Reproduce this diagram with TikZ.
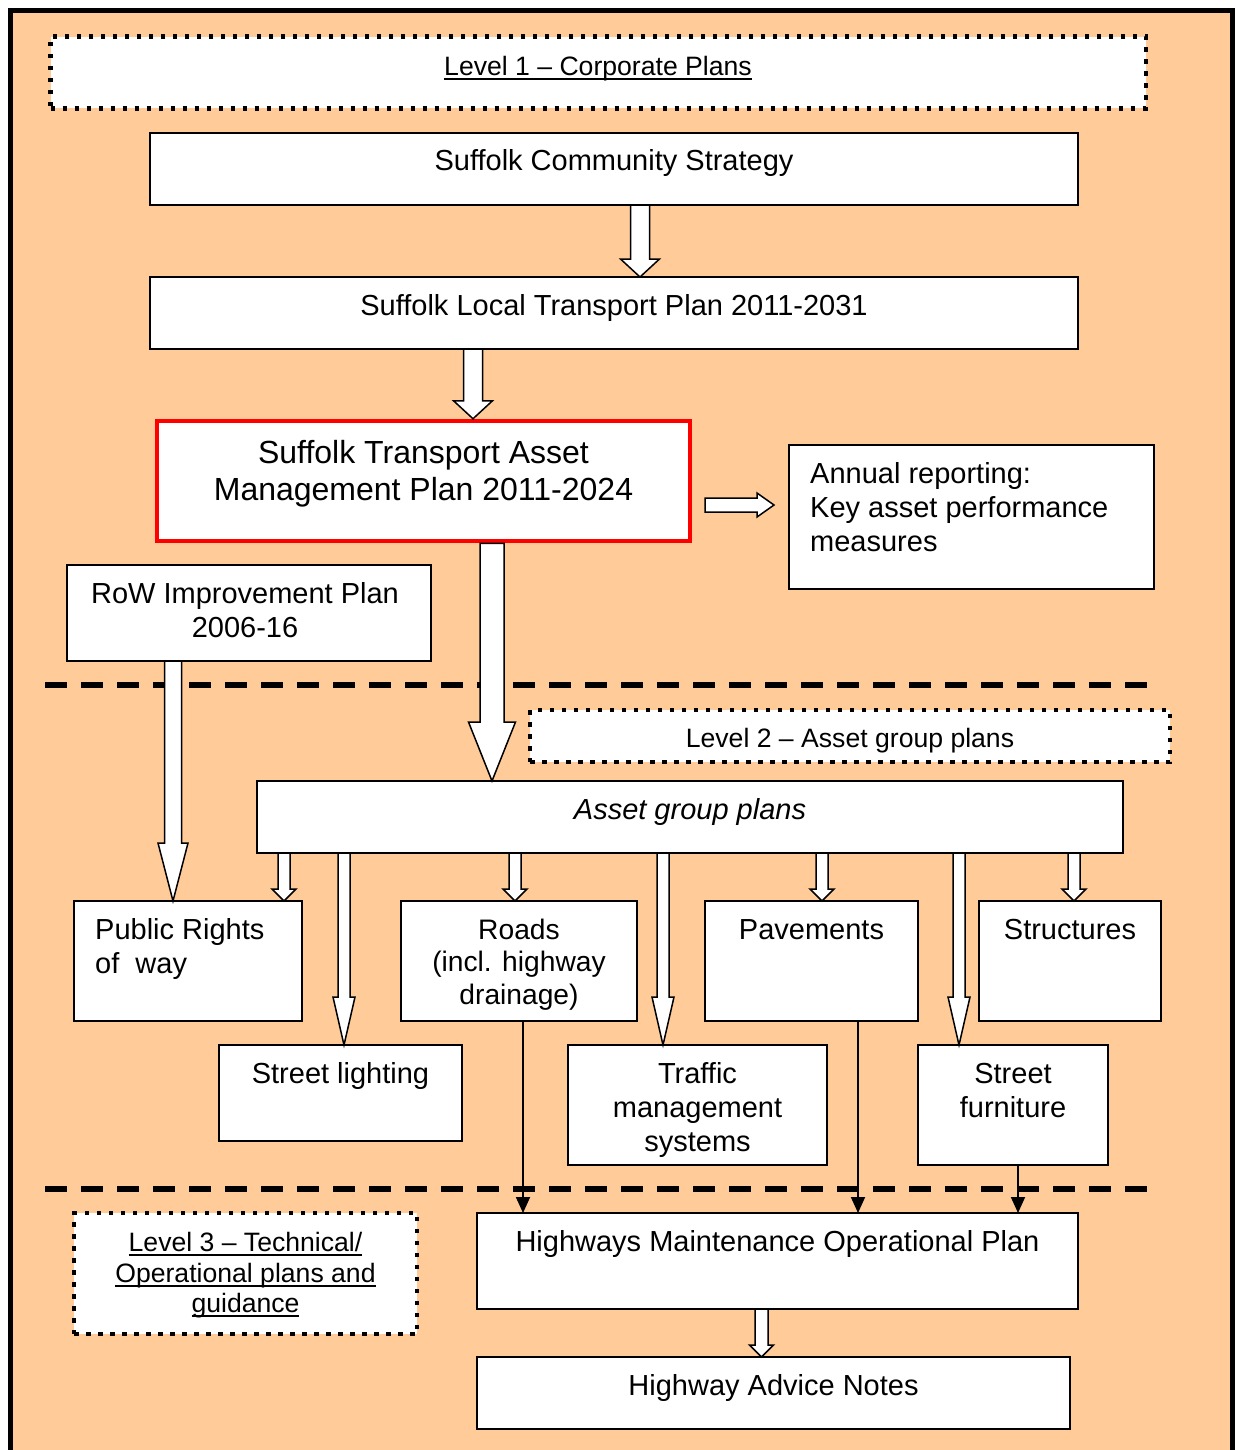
\documentclass[tikz,border=0pt]{standalone}
\usepackage{fontspec}
\setmainfont{Liberation Sans}
\usetikzlibrary{arrows.meta,calc}
\definecolor{bgorange}{RGB}{255,204,153}
\definecolor{boxred}{RGB}{255,0,0}
\newcommand\ulbox[1]{\setbox0\hbox{#1}\rlap{\rule[-4.5pt]{\wd0}{1.8pt}}\box0}
% vertical block arrow: start, tip, shaft half width, head half width, head length
\newcommand\vblock[5]{\draw[blockarrow] ($(#1)+(-#3,0)$) -- ($(#2)+(-#3,-#5)$) -- ($(#2)+(-#4,-#5)$) -- (#2) -- ($(#2)+(#4,-#5)$) -- ($(#2)+(#3,-#5)$) -- ($(#1)+(#3,0)$) -- cycle;}
\newcommand\hblock[5]{\draw[blockarrow] ($(#1)+(0,-#3)$) -- ($(#2)+(-#5,-#3)$) -- ($(#2)+(-#5,-#4)$) -- (#2) -- ($(#2)+(-#5,#4)$) -- ($(#2)+(-#5,#3)$) -- ($(#1)+(0,#3)$) -- cycle;}
\newcommand\boxat[6]{\node[#2, minimum width={#5-#3}, minimum height={#6-#4}] (#1) at ({(#3+#5)/2},{(#4+#6)/2}) {};}
\begin{document}
\begin{tikzpicture}[x=1pt,y=-1pt,
  box/.style={draw=black, line width=1.6pt, fill=white, rectangle, inner sep=0pt, outer sep=0pt},
  dotbox/.style={draw=black, fill=white, rectangle, inner sep=0pt, outer sep=0pt, line width=4.5pt, dash pattern=on 4.5pt off 7.5pt},
  redbox/.style={draw=boxred, fill=white, rectangle, inner sep=0pt, line width=4.5pt},
  txt/.style={inner sep=0pt, font=\fontsize{29}{34}\selectfont},
  levtxt/.style={inner sep=0pt, font=\fontsize{26.6}{30.5}\selectfont},
  bigtxt/.style={inner sep=0pt, font=\fontsize{32}{37}\selectfont},
  roadtxt/.style={inner sep=0pt, font=\fontsize{28.2}{32.5}\selectfont},
  sepline/.style={line width=5.5pt, dash pattern=on 22pt off 14pt},
  blockarrow/.style={draw=black, fill=white, line width=1.5pt, line join=miter},
  thinarrow/.style={line width=1.8pt, -{Triangle[width=14pt,length=16pt]}}
]
\useasboundingbox (0,0) rectangle (1237,1450);
% frame
\fill[bgorange] (10.5,10.5) rectangle (1232.5,1475);
\draw[line width=5pt] (10.5,1475) -- (10.5,10.5) -- (1232.5,10.5) -- (1232.5,1475);
% separators
\draw[sepline] (45,685) -- (1147,685);
\draw[sepline] (45,1189) -- (1147,1189);
% boxes
\boxat{l1}{dotbox}{50.5}{36.7}{1146}{108.5}
\boxat{scs}{box}{150}{133}{1078}{205}
\boxat{ltp}{box}{150}{277}{1078}{349}
\boxat{rb}{redbox}{157}{421}{690}{541}
\boxat{ann}{box}{789}{445}{1154}{589}
\boxat{row}{box}{67}{565}{431}{661}
\boxat{l2}{dotbox}{530}{710}{1170}{762}
\boxat{agp}{box}{257}{781}{1123}{853}
\boxat{prw}{box}{74}{901}{302}{1021}
\boxat{roads}{box}{401}{901}{637}{1021}
\boxat{pav}{box}{705}{901}{918}{1021}
\boxat{str}{box}{979}{901}{1161}{1021}
\boxat{sl}{box}{219}{1045}{462}{1141}
\boxat{tms}{box}{568}{1045}{827}{1165}
\boxat{sf}{box}{918}{1045}{1108}{1165}
\boxat{l3}{dotbox}{74}{1213}{417}{1334}
\boxat{hmop}{box}{477}{1213}{1078}{1309}
\boxat{han}{box}{477}{1357}{1070}{1429}
% texts (multi-line nodes: base anchor = baseline of last line)
\node[levtxt, anchor=base] (t-l1) at (598,75.5) {\ulbox{Level 1 – Corporate Plans}};
\node[txt, anchor=base] (t-scs) at (scs.center |- 0,171) {Suffolk Community Strategy};
\node[txt, anchor=base] (t-ltp) at (ltp.center |- 0,315) {Suffolk Local Transport Plan 2011-2031};
\node[bigtxt, anchor=base, align=center] (t-rb) at (rb.center |- 0,500.5) {Suffolk Transport Asset\\Management Plan 2011-2024};
\node[txt, anchor=base west, align=left] (t-ann) at (810,551) {Annual reporting:\\Key asset performance\\measures};
\node[txt, anchor=base, align=center] (t-row) at (245,637) {RoW Improvement Plan\\2006-16};
\node[levtxt, anchor=base] (t-l2) at (l2.center |- 0,747.5) {Level 2 – Asset group plans};
\node[txt, anchor=base] (t-agp) at (agp.center |- 0,819) {\itshape Asset group plans};
\node[txt, anchor=base west, align=left] (t-prw) at (95,973) {Public Rights\\of~~way};
\node[roadtxt, anchor=base, align=center] (t-roads) at (roads.center |- 0,1004) {Roads\\(incl. highway\\drainage)};
\node[txt, anchor=base] (t-pav) at (pav.center |- 0,939) {Pavements};
\node[txt, anchor=base] (t-str) at (str.center |- 0,939) {Structures};
\node[txt, anchor=base] (t-sl) at (sl.center |- 0,1083) {Street lighting};
\node[txt, anchor=base, align=center] (t-tms) at (tms.center |- 0,1151) {Traffic\\management\\systems};
\node[txt, anchor=base, align=center] (t-sf) at (sf.center |- 0,1117) {Street\\furniture};
\node[levtxt, anchor=base, align=center] (t-l3) at (l3.center |- 0,1312.5) {\ulbox{Level 3 – Technical/}\\\ulbox{Operational plans and}\\\ulbox{guidance}};
\node[txt, anchor=base] (t-hmop) at (hmop.center |- 0,1251) {Highways Maintenance Operational Plan};
\node[txt, anchor=base] (t-han) at (han.center |- 0,1395) {Highway Advice Notes};
% block arrows
\coordinate (a1s) at (640,0 |- scs.south); \coordinate (a1e) at (640,0 |- ltp.north);
\vblock{a1s}{a1e}{9.5}{19.5}{18}
\coordinate (a2s) at (473,0 |- ltp.south); \coordinate (a2e) at (473,0 |- rb.north);
\vblock{a2s}{a2e}{9.5}{19.5}{18}
\coordinate (a3s) at (492,0 |- rb.south); \coordinate (a3e) at (492,0 |- agp.north);
\vblock{a3s}{a3e}{12}{23.5}{59}
\coordinate (a4s) at (173,0 |- row.south); \coordinate (a4e) at (173,0 |- prw.north);
\vblock{a4s}{a4e}{8.5}{15}{58}
\coordinate (ar-s) at (705,505); \coordinate (ar-e) at (774,505);
\hblock{ar-s}{ar-e}{7}{12}{17}
% short arrows from asset group plans
\coordinate (b1s) at (284,0 |- agp.south); \coordinate (b1e) at (284,0 |- prw.north);
\vblock{b1s}{b1e}{6}{12}{12}
\coordinate (b2s) at (515,0 |- agp.south); \coordinate (b2e) at (515,0 |- roads.north);
\vblock{b2s}{b2e}{6}{12}{12}
\coordinate (b3s) at (822,0 |- agp.south); \coordinate (b3e) at (822,0 |- pav.north);
\vblock{b3s}{b3e}{6}{12}{12}
\coordinate (b4s) at (1074,0 |- agp.south); \coordinate (b4e) at (1074,0 |- str.north);
\vblock{b4s}{b4e}{6}{12}{12}
% long arrows
\coordinate (c1s) at (344,0 |- agp.south); \coordinate (c1e) at (344,0 |- sl.north);
\vblock{c1s}{c1e}{6}{11}{48}
\coordinate (c2s) at (663,0 |- agp.south); \coordinate (c2e) at (663,0 |- tms.north);
\vblock{c2s}{c2e}{6}{11}{48}
\coordinate (c3s) at (959,0 |- agp.south); \coordinate (c3e) at (959,0 |- sf.north);
\vblock{c3s}{c3e}{6}{11}{48}
% bottom block arrow
\coordinate (d1s) at (761.5,0 |- hmop.south); \coordinate (d1e) at (761.5,0 |- han.north);
\vblock{d1s}{d1e}{6.5}{12}{12}
% thin arrows
\draw[thinarrow] (523,0 |- roads.south) -- (523,0 |- hmop.north);
\draw[thinarrow] (858,0 |- pav.south) -- (858,0 |- hmop.north);
\draw[thinarrow] (1018,0 |- sf.south) -- (1018,0 |- hmop.north);
\end{tikzpicture}
\end{document}
